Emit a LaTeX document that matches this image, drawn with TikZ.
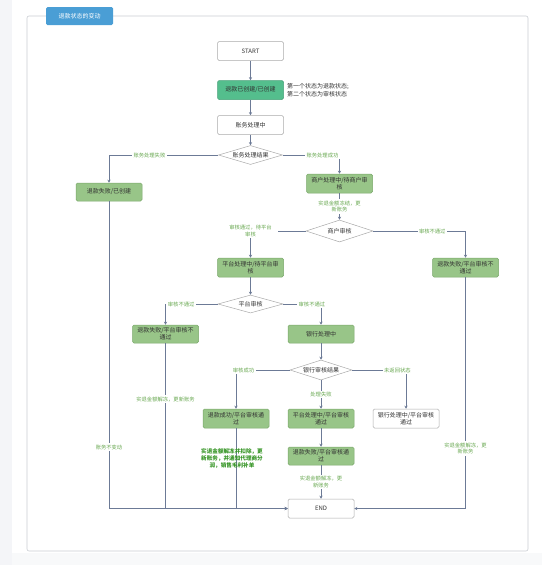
\documentclass[tikz,border=0pt]{standalone}
\usepackage{fontspec}
\setmainfont{Noto Sans CJK SC}
\usetikzlibrary{shapes.geometric,arrows.meta}
\definecolor{linec}{RGB}{108,122,150}
\definecolor{boxgray}{RGB}{170,170,170}
\definecolor{txt}{RGB}{50,50,50}
\definecolor{gfill}{RGB}{152,197,136}
\definecolor{gdraw}{RGB}{122,168,106}
\definecolor{tealfill}{RGB}{84,190,141}
\definecolor{lblc}{RGB}{104,168,80}
\definecolor{boldg}{RGB}{56,150,40}
\definecolor{titlec}{RGB}{74,158,213}
\definecolor{framec}{RGB}{200,204,210}
\definecolor{bgc}{RGB}{244,245,248}
\definecolor{bgb}{RGB}{248,249,250}
\begin{document}
\begin{tikzpicture}[x=1pt,y=-1pt,
  box/.style={draw=boxgray, fill=white, rounded corners=1.5pt, minimum width=66pt, minimum height=19pt, inner sep=1pt, align=center, font=\fontsize{6}{7}\selectfont, text=txt, line width=0.5pt},
  gbox/.style={box, fill=gfill, draw=gdraw},
  dia/.style={diamond, draw=boxgray, fill=white, aspect=3.4, inner sep=0pt, minimum width=64pt, minimum height=19pt, font=\fontsize{6}{7}\selectfont, text=txt, line width=0.5pt},
  lbl/.style={fill=white, text=lblc, font=\fontsize{5.3}{6.5}\selectfont, inner sep=1.5pt, align=center},
  conn/.style={draw=linec, line width=0.5pt, -{Stealth[length=3pt,width=3pt]}}]
\useasboundingbox (0,0) rectangle (542,565);
\fill[bgc] (0,0) rectangle (12,565);
\fill[bgb] (12,553) rectangle (542,565);
\draw[framec, line width=0.6pt, rounded corners=2pt] (27,16) rectangle (528,551);
\node[fill=titlec, rounded corners=1.5pt, minimum width=67pt, minimum height=18pt, inner sep=1pt, text=white, font=\fontsize{6}{7}\selectfont] (title) at (79.5,16) {退款状态的变动};

\node[box] (start) at (250.5,51) {START};
\node[box, fill=tealfill, draw=tealfill!85!black] (created) at (250.5,90) {退款已创建/已创建};
\node[anchor=west, align=left, text=txt, font=\fontsize{6}{7.5}\selectfont, inner sep=0pt] (note) at (287,90) {第一个状态为退款状态;\\第二个状态为审核状态};
\node[box] (acct) at (250.5,125) {账务处理中};
\node[dia] (d1) at (250.5,155) {账务处理结果};
\node[gbox, minimum height=18pt] (f1) at (109,192) {退款失败/已创建};
\node[gbox] (m1) at (339.5,183.5) {商户处理中/待商户审\\核};
\node[dia, minimum width=67pt, minimum height=22pt] (d2) at (339.5,231) {商户审核};
\node[gbox] (p1) at (250.5,267.5) {平台处理中/待平台审\\核};
\node[gbox] (r1) at (465.5,267.5) {退款失败/平台审核不\\通过};
\node[dia, minimum width=65pt, minimum height=18pt] (d3) at (250.5,304) {平台审核};
\node[gbox, minimum height=18pt] (pf) at (165.5,334) {退款失败/平台审核不\\通过};
\node[gbox, minimum height=18pt] (bank) at (321,334) {银行处理中};
\node[dia, minimum width=62pt, minimum height=20pt] (d4) at (321,370) {银行审核结果};
\node[gbox] (succ) at (236,418.5) {退款成功/平台审核通\\过};
\node[gbox] (pm) at (321,418.5) {平台处理中/平台审核\\通过};
\node[box] (wb) at (406,418.5) {银行处理中/平台审核\\通过};
\node[gbox, minimum height=18pt] (fm) at (321,456) {退款失败/平台审核通\\过};
\node[box] (end) at (321,508.5) {END};

\draw[conn] (start) -- (created);
\draw[conn] (created) -- (acct);
\draw[conn] (acct) -- (d1);
\draw[conn] (d1.west) -| node[lbl, pos=0.315] {账务处理失败} (f1.north);
\draw[conn] (d1.east) -| node[lbl, pos=0.35] {账务处理成功} (m1.north);
\draw[conn] (m1) -- node[lbl] {实退金额冻结，更\\新账务} (d2);
\draw[conn] (d2.west) -| node[lbl, pos=0.5, inner xsep=6pt] {审核通过，待平台\\审核} (p1.north);
\draw[conn] (d2.east) -| node[lbl, pos=0.32] {审核不通过} (r1.north);
\draw[conn] (p1) -- (d3);
\draw[conn] (d3.west) -| node[lbl, pos=0.35] {审核不通过} (pf.north);
\draw[conn] (d3.east) -| node[lbl, pos=0.38] {审核不通过} (bank.north);
\draw[conn] (bank) -- (d4);
\draw[conn] (d4.west) -| node[lbl, pos=0.43] {审核成功} (succ.north);
\draw[conn] (d4) -- node[lbl] {处理失败} (pm);
\draw[conn] (d4.east) -| node[lbl, pos=0.42] {未返回状态} (wb.north);
\draw[conn] (pm) -- (fm);
\draw[conn] (fm) -- node[lbl] {实退金额解冻，更\\新账务} (end);
\draw[conn] (f1.south) |- node[lbl, pos=0.4] {账务不变动} (end.west);
\draw[conn] (pf.south) |- node[lbl, pos=0.17] {实退金额解冻，更新账务} (end.west);
\draw[conn] (succ.south) |- node[pos=0.19, xshift=-4pt, text=boldg, align=center, inner sep=0pt, font=\fontsize{5.6}{6.8}\selectfont\bfseries] {实退金额解冻并扣除，更\\新账务，并通知代理商分\\润，销售毛利补单} (end.west);
\draw[conn] (r1.south) |- node[lbl, pos=0.37] {实退金额解冻，更\\新账务} (end.east);
\end{tikzpicture}
\end{document}
